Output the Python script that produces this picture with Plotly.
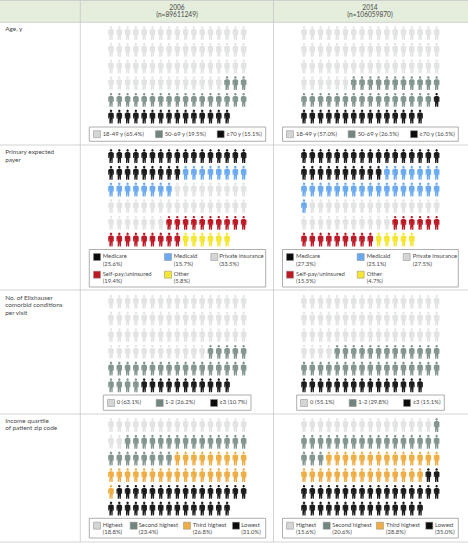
import plotly.graph_objects as go

# ---------- data ----------
YEARS = ["2006", "2014"]
YEAR_N = ["(n=89611249)", "(n=106059870)"]
SECTION_TITLES = [["Age, y"], ["Primary expected", "payer"],
                  ["No. of Elixhauser", "comorbid conditions", "per visit"],
                  ["Income quartile", "of patient zip code"]]

AGE_LABELS = ["18-49 y", "50-69 y", "≥70 y"]
AGE_PCT_2006 = ["65.4%", "19.5%", "15.1%"]
AGE_PCT_2014 = ["57.0%", "26.5%", "16.5%"]
AGE_ICONS_2006 = [65, 20, 15]
AGE_ICONS_2014 = [57, 27, 16]

PAYER_LABELS = ["Medicare", "Medicaid", "Private insurance", "Self-pay/uninsured", "Other"]
PAYER_PCT_2006 = ["25.6%", "15.7%", "33.5%", "19.4%", "5.8%"]
PAYER_PCT_2014 = ["27.3%", "25.1%", "27.5%", "15.5%", "4.7%"]
PAYER_ICONS_2006 = [26, 16, 33, 19, 6]
PAYER_ICONS_2014 = [27, 25, 27, 15, 5]

ELIX_LABELS = ["0", "1-2", "≥3"]
ELIX_PCT_2006 = ["63.1%", "26.2%", "10.7%"]
ELIX_PCT_2014 = ["55.1%", "29.8%", "15.1%"]
ELIX_ICONS_2006 = [63, 26, 11]
ELIX_ICONS_2014 = [55, 30, 15]

INCOME_LABELS = ["Highest", "Second highest", "Third highest", "Lowest"]
INCOME_PCT_2006 = ["18.8%", "23.4%", "26.8%", "31.0%"]
INCOME_PCT_2014 = ["15.6%", "20.6%", "28.8%", "35.0%"]
INCOME_ICONS_2006 = [19, 23, 27, 31]
INCOME_ICONS_2014 = [16, 21, 29, 34]

# ---------- styling ----------
W, H = 468, 543
FONT = "Lato"
TXT = "#4a4a4a"
LIGHT, SLATE, BLACK = "#e2e4e3", "#83958f", "#1c1c1c"
BLUE, RED, YELLOW, ORANGE = "#6aaaf0", "#bd1a26", "#f5e630", "#efae45"
SW_LIGHT = "#d4d6d5"
SW_SLATE = "#73857f"
SW_BLACK = "#0c0c0c"
AGE_COL = [LIGHT, SLATE, BLACK]
PAYER_COL = [BLACK, BLUE, LIGHT, RED, YELLOW]
ELIX_COL = AGE_COL
INCOME_COL = [LIGHT, SLATE, ORANGE, BLACK]
SWATCH = {LIGHT: SW_LIGHT, SLATE: SW_SLATE, BLACK: SW_BLACK}

COL_X0 = [111.0, 304.0]
DX = 8.29
DY = 16.7
PER_ROW = 17
ROW0 = [33.0, 156.0, 301.7, 425.0]

HEAD_R = 1.3
BODY = [(-1.1, -3.9), (1.1, -3.9), (2.8, -2.9), (2.8, 2.0), (1.9, 2.0), (1.9, -1.0), (1.6, -1.0),
        (1.6, 7.0), (0.3, 7.0), (0.3, 2.6), (-0.3, 2.6), (-0.3, 7.0), (-1.6, 7.0), (-1.6, -1.0),
        (-1.9, -1.0), (-1.9, 2.0), (-2.8, 2.0), (-2.8, -2.9), (-1.1, -3.9)]
HEAD = [(HEAD_R * c, -5.6 + HEAD_R * s) for c, s in
        [(1, 0), (.87, .5), (.5, .87), (0, 1), (-.5, .87), (-.87, .5), (-1, 0), (-.87, -.5),
         (-.5, -.87), (0, -1), (.5, -.87), (.87, -.5), (1, 0)]]

fig = go.Figure()


def icons(col, sec, counts, colors):
    idx = 0
    for n, color in zip(counts, colors):
        xs, ys = [], []
        for _ in range(n):
            r, c = divmod(idx, PER_ROW)
            cx, cy = COL_X0[col] + c * DX, ROW0[sec] + r * DY
            for poly in (BODY, HEAD):
                xs += [cx + p[0] for p in poly] + [None]
                ys += [cy + p[1] for p in poly] + [None]
            idx += 1
        fig.add_trace(go.Scatter(x=xs, y=ys, mode="lines", fill="toself", fillcolor=color,
                                 line=dict(width=0, color=color), hoverinfo="skip"))


def text(xs, ys, ts, anchor="middle right", size=5.9):
    fig.add_trace(go.Scatter(x=xs, y=ys, text=ts, mode="text", textposition=anchor,
                             textfont=dict(family=FONT, size=size, color=TXT), hoverinfo="skip"))


def legend(box, sw_x, tx_x, sw_y, labels, pcts, colors, two_lines, dy=7.2):
    shapes.append(dict(type="rect", x0=box[0], x1=box[1], y0=box[2], y1=box[3],
                       line=dict(color="#9a9a9a", width=0.8), fillcolor="white", layer="below"))
    fig.add_trace(go.Scatter(x=sw_x, y=sw_y, mode="markers", hoverinfo="skip",
                             marker=dict(symbol="square", size=7,
                                         color=[SWATCH.get(c, c) for c in colors],
                                         line=dict(width=0.5, color="#8a8a8a"))))
    xs, ys, ts = [], [], []
    for x, y, l, p in zip(tx_x, sw_y, labels, pcts):
        if two_lines:
            xs += [x, x]; ys += [y, y + dy]; ts += [l, f"({p})"]
        else:
            xs.append(x); ys.append(y); ts.append(f"{l} ({p})")
    text(xs, ys, ts)


shapes = [dict(type="rect", x0=0, x1=W, y0=0, y1=22.3, fillcolor="#e5eedc", line_width=0, layer="below")]
for y in [0.5, 22.3, 145, 290, 414, 542]:
    shapes.append(dict(type="line", x0=0, x1=W, y0=y, y1=y, line=dict(color="#c8c8c8", width=0.8), layer="below"))
for x in [80.3, 273.5]:
    shapes.append(dict(type="line", x0=x, x1=x, y0=0, y1=542, line=dict(color="#c8c8c8", width=0.8), layer="below"))

# icons
icons(0, 0, AGE_ICONS_2006, AGE_COL); icons(1, 0, AGE_ICONS_2014, AGE_COL)
icons(0, 1, PAYER_ICONS_2006, PAYER_COL); icons(1, 1, PAYER_ICONS_2014, PAYER_COL)
icons(0, 2, ELIX_ICONS_2006, ELIX_COL); icons(1, 2, ELIX_ICONS_2014, ELIX_COL)
icons(0, 3, INCOME_ICONS_2006, INCOME_COL); icons(1, 3, INCOME_ICONS_2014, INCOME_COL)

# legends
legend((89.3, 265.7, 127, 141.3), [97, 159, 220.7], [102.7, 164.7, 226.3], [134.2] * 3,
       AGE_LABELS, AGE_PCT_2006, AGE_COL, False)
legend((282.5, 458.3, 127, 141.3), [290, 351.7, 414], [296, 357.7, 419.3], [134.2] * 3,
       AGE_LABELS, AGE_PCT_2014, AGE_COL, False)

PY = [257, 257, 257, 274.7, 274.7]
legend((89.3, 265.7, 249.5, 287), [97, 168, 214.3, 97, 168], [102.7, 173.7, 219.3, 102.7, 173.7], PY,
       PAYER_LABELS, PAYER_PCT_2006, PAYER_COL, True)
legend((282.5, 458.3, 249.5, 287), [290, 360.7, 406.7, 290, 360.7], [296, 366.7, 412.7, 296, 366.7], PY,
       PAYER_LABELS, PAYER_PCT_2014, PAYER_COL, True)

legend((103.3, 251, 395, 410.3), [111, 159.7, 214], [116.7, 165, 219.3], [403] * 3,
       ELIX_LABELS, ELIX_PCT_2006, ELIX_COL, False)
legend((296.7, 444.3, 395, 410.3), [304, 352.7, 407], [310, 358.3, 412.7], [403] * 3,
       ELIX_LABELS, ELIX_PCT_2014, ELIX_COL, False)

legend((89.3, 265.7, 518.3, 538), [97, 133.7, 187, 236], [102.7, 138.7, 192.7, 241.3], [525.7] * 4,
       INCOME_LABELS, INCOME_PCT_2006, INCOME_COL, True)
legend((282.5, 458.3, 518.3, 538), [290, 326.7, 380, 429.3], [296, 332.3, 386, 435], [525.7] * 4,
       INCOME_LABELS, INCOME_PCT_2014, INCOME_COL, True)

# header + section titles
text([177, 177, 370, 370], [8, 15.7, 8, 15.7], [YEARS[0], YEAR_N[0], YEARS[1], YEAR_N[1]],
     anchor="middle center", size=6.6)
sx, sy, st = [], [], []
for top, lines in zip([29.5, 152.5, 298, 421], SECTION_TITLES):
    for i, l in enumerate(lines):
        sx.append(5.2); sy.append(top + i * 7.8); st.append(l)
text(sx, sy, st, size=6.4)

fig.update_layout(width=W, height=H, margin=dict(l=0, r=0, t=0, b=0), showlegend=False,
                  paper_bgcolor="white", plot_bgcolor="white", shapes=shapes,
                  xaxis=dict(range=[0, W], visible=False, fixedrange=True),
                  yaxis=dict(range=[H, 0], visible=False, fixedrange=True))
fig.write_html("out.html", config={"displayModeBar": False},
               post_script="document.body.style.margin='0';document.body.style.overflow='hidden';")
